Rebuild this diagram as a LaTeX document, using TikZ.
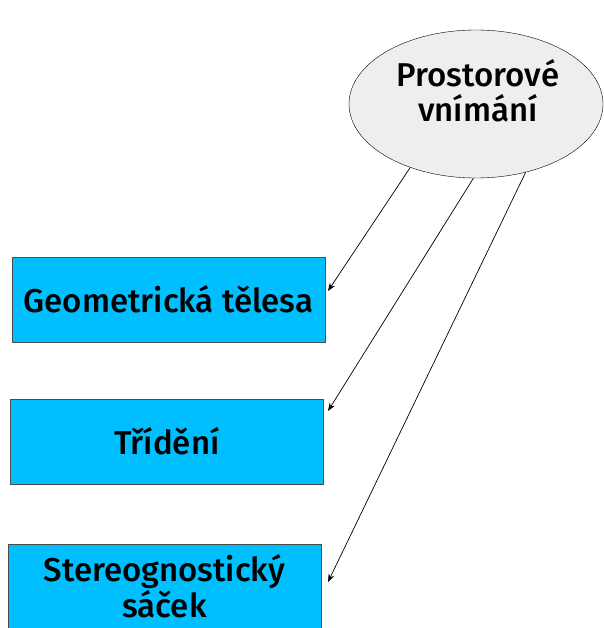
\documentclass[tikz,border=0pt]{standalone}
\usepackage{fontspec}
\setmainfont{Fira Sans}[UprightFont=* Medium]
\usetikzlibrary{arrows.meta,shapes.geometric}
\definecolor{boxblue}{RGB}{0,191,255}
\tikzset{
  topic/.style={draw=black!70,fill=boxblue,minimum width=313pt,minimum height=85pt,inner sep=0pt,align=center,font=\fontsize{33}{36}\selectfont},
  link/.style={-{Stealth[length=8pt,width=6pt]},line width=0.7pt}
}
\begin{document}
\begin{tikzpicture}[x=1pt,y=1pt]
\useasboundingbox (0,0) rectangle (603,-628);

\node[ellipse,draw,fill=gray!13,minimum width=254pt,minimum height=148pt] (ell) at (476,-104) {};
\node[align=center,font=\fontsize{33}{35}\selectfont] (elltext) at (478,-91) {Prostorové\\vnímání};

\node[topic] (geo) at (168.5,-299.5) {Geometrická tělesa};
\node[topic] (trid) at (167,-441.5) {Třídění};
\node[topic] (sac) at (164.5,-586.5) {Stereognostický\\sáček};

\coordinate (e1) at (328,-291);
\coordinate (e2) at (328,-411);
\coordinate (e3) at (328,-582);

\draw[link] (ell.224)--(e1);
\draw[link] (ell.268)--(e2);
\draw[link] (ell.306)--(e3);
\end{tikzpicture}
\end{document}
